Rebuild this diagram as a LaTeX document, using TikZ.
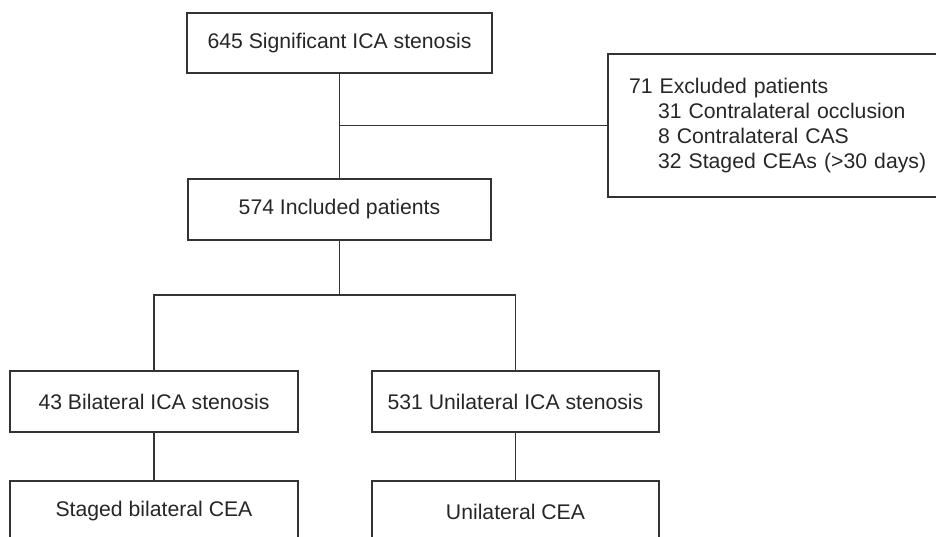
\documentclass[tikz,border=0pt]{standalone}
\usepackage{fontspec}
\setmainfont{Liberation Sans}
\begin{document}
\begin{tikzpicture}[x=1pt,y=-1pt,
		flowbox/.style={draw=black!80,line width=1.2pt,text=black!85,inner sep=0pt,minimum height=61pt},
		flowline/.style={draw=black!80,line width=1.2pt},
		font=\fontsize{21.2}{25}\selectfont]
		\clip (0,0) rectangle (936,536);
		
		\node[flowbox,minimum width=305pt,minimum height=60pt] at (339.5,43) (top) {645 Significant ICA stenosis};
		\node[flowbox,minimum width=303pt] at (339.5,209.5) (incl) {574 Included patients};
		\node[flowbox,minimum height=143pt,text width=310pt,align=left,inner xsep=21pt] at (784,125.5) (excl) {71 Excluded patients\\
			\hspace*{29pt}31 Contralateral occlusion\\
			\hspace*{29pt}8 Contralateral CAS\\
			\hspace*{29pt}32 Staged CEAs (>30 days)};
		\node[flowbox,minimum width=288pt] at (154,401.5) (bil) {43 Bilateral ICA stenosis};
		\node[flowbox,minimum width=287pt] at (515.5,401.5) (uni) {531 Unilateral ICA stenosis};
		\node[flowbox,minimum width=288pt] at (154,511.5) (bilcea) {Staged bilateral CEA};
		\node[flowbox,minimum width=287pt] at (515.5,511.5) (unicea) {Unilateral CEA};
		
		\coordinate (split) at (339.5,295);
		
		\draw[flowline] (top) -- (incl);
		\draw[flowline] (top.south |- excl.west) -- (excl.west);
		\draw[flowline] (incl) -- (split);
		\draw[flowline] (bil.north) -- (bil.north |- split) -- (uni.north |- split) -- (uni.north);
		\draw[flowline] (bil) -- (bilcea);
		\draw[flowline] (uni) -- (unicea);
	\end{tikzpicture}
\end{document}
